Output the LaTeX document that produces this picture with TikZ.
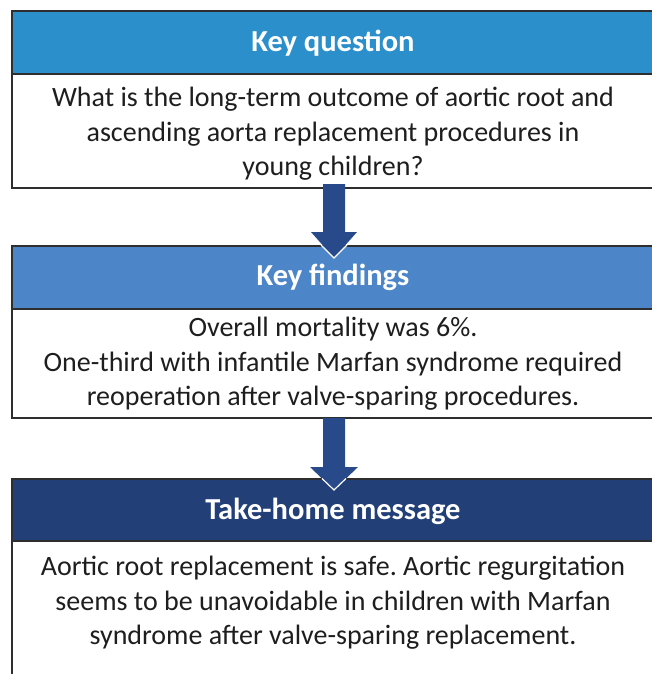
\documentclass[tikz,border=0pt]{standalone}
\usepackage{fontspec}
\setmainfont{Carlito}
\usetikzlibrary{calc}
\definecolor{hdrA}{HTML}{2A8FCB}
\definecolor{hdrB}{HTML}{4C86C8}
\definecolor{hdrC}{HTML}{233F78}
\definecolor{arrowc}{HTML}{294A8A}
\definecolor{edge}{HTML}{2E2E2E}
\definecolor{txt}{HTML}{1E1E1E}
\frenchspacing
\tikzset{
  hdr/.style={draw=edge, line width=1.8pt, minimum width=645pt, anchor=north west, inner sep=0pt},
  hdrtext/.style={text=white, inner sep=0pt, font=\fontsize{30.5}{34}\selectfont\bfseries},
  bodybox/.style={draw=edge, line width=1.8pt, fill=white, minimum width=645pt, anchor=north west, inner sep=0pt},
  bodytext/.style={text=txt, align=center, font=\fontsize{28}{34.5}\selectfont, inner sep=0pt}
}
\begin{document}
\begin{tikzpicture}[x=1pt,y=-1pt]
\useasboundingbox (0,0) rectangle (652,674);
\clip (0,0) rectangle (652,674);
% box 1
\node[bodybox, minimum height=114pt] (b1) at (11,73) {};
\node[hdr, fill=hdrA, minimum height=63pt] (h1) at (11,10) {};
\node[hdrtext] (h1t) at (333,43) {Key question};
\node[bodytext] (b1t) at (333,134) {What is the long-term outcome of aortic root and\\ascending aorta replacement procedures in\\young children?};
% box 2
\node[bodybox, minimum height=109pt] (b2) at (11,308) {};
\node[hdr, fill=hdrB, minimum height=63pt] (h2) at (11,245) {};
\node[hdrtext] (h2t) at (333,277) {Key findings};
\node[bodytext] (b2t) at (333,364) {Overall mortality was 6\%.\\One-third with infantile Marfan syndrome required\\reoperation after valve-sparing procedures.};
% box 3
\node[bodybox, minimum height=150pt] (b3) at (11,540) {};
\node[hdr, fill=hdrC, minimum height=62pt] (h3) at (11,478) {};
\node[hdrtext] (h3t) at (333,511) {Take-home message};
\node[bodytext] (b3t) at (333,603) {Aortic root replacement is safe. Aortic regurgitation\\seems to be unavoidable in children with Marfan\\syndrome after valve-sparing replacement.};
% arrows
\coordinate (a1s) at (334,184);
\coordinate (a1t) at (334,258);
\fill[arrowc] ($(a1s)+(-11,0)$) -- ($(a1s)+(11,0)$) -- ($(a1t)+(11,-26)$) -- ($(a1t)+(23,-26)$) -- (a1t) -- ($(a1t)+(-23,-26)$) -- ($(a1t)+(-11,-26)$) -- cycle;
\draw[white, line width=1.2pt] ($(a1t)+(-13,-13)$) -- (a1t) -- ($(a1t)+(13,-13)$);
\coordinate (a2s) at (334,418);
\coordinate (a2t) at (334,490);
\fill[arrowc] ($(a2s)+(-11,0)$) -- ($(a2s)+(11,0)$) -- ($(a2t)+(11,-23)$) -- ($(a2t)+(24,-23)$) -- (a2t) -- ($(a2t)+(-24,-23)$) -- ($(a2t)+(-11,-23)$) -- cycle;
\draw[white, line width=1.2pt] ($(a2t)+(-12,-11.5)$) -- (a2t) -- ($(a2t)+(12,-11.5)$);
\end{tikzpicture}
\end{document}
